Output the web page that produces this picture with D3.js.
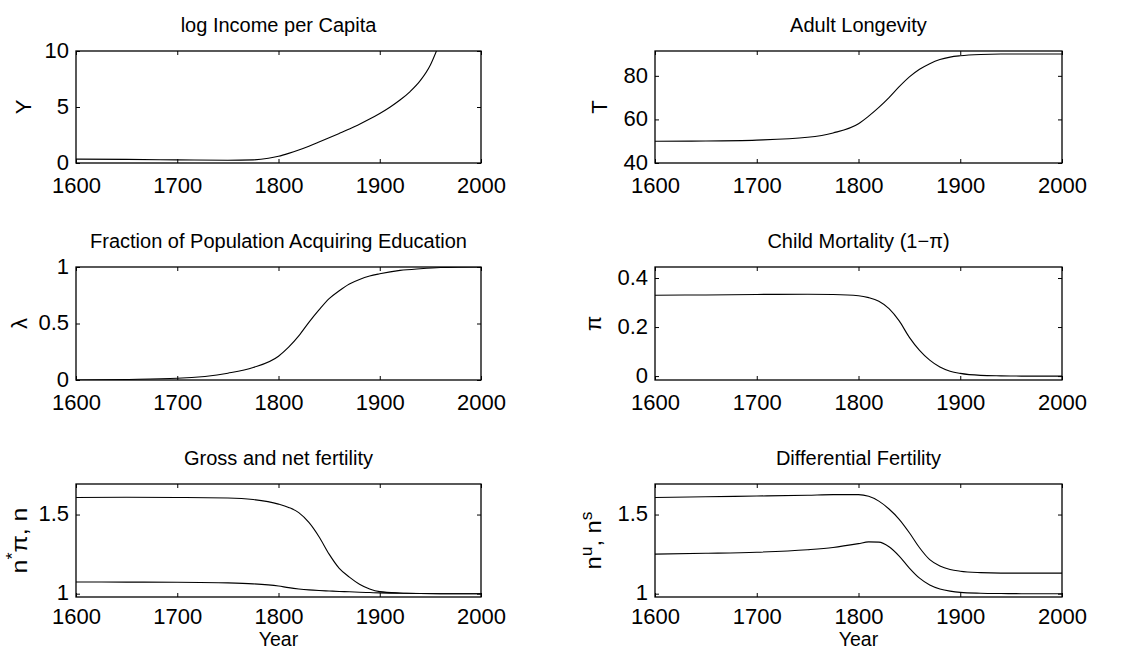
<!DOCTYPE html>
<html>
<head>
<meta charset="UTF-8">
<title>Demographic transition panels</title>
<script src="https://d3js.org/d3.v7.min.js"></script>
<style>
  body { margin: 0; background: #fff; }
  svg text { font-family: "Liberation Sans", Arial, sans-serif; fill: #000; }
</style>
</head>
<body>
<div id="chart"></div>
<script>
// years shared by most panels
const years = [1600,1650,1700,1750,1775,1800,1810,1820,1830,1840,1850,1860,1870,1880,1890,1900,1920,1940,1960,2000];

// log income per capita (leaves the top of the panel around 1956)
const incomeYears = [1600,1650,1700,1750,1775,1790,1800,1810,1820,1830,1840,1850,1860,1870,1880,1890,1900,1910,1920,1930,1940,1950,1956];
const incomeY = [0.35,0.32,0.28,0.24,0.28,0.42,0.6,0.86,1.16,1.5,1.87,2.25,2.64,3.04,3.46,3.92,4.42,4.98,5.62,6.38,7.35,8.75,10];

const longevityT = [50.0,50.1,50.5,51.8,53.8,58.0,61.5,65.5,70.0,75.0,79.5,83.0,85.6,87.5,88.6,89.2,89.8,90.0,90.0,90.0];
const educLambda = [0.0,0.005,0.015,0.06,0.11,0.21,0.29,0.39,0.51,0.62,0.72,0.79,0.85,0.89,0.92,0.94,0.97,0.985,0.995,1.0];
const childPi = [0.330,0.331,0.333,0.334,0.333,0.328,0.320,0.305,0.275,0.225,0.158,0.105,0.065,0.037,0.020,0.011,0.003,0.001,0.0,0.0];
const grossFert = [1.608,1.609,1.608,1.605,1.595,1.566,1.545,1.512,1.45,1.36,1.25,1.16,1.105,1.06,1.03,1.013,1.004,1.001,1.0,1.0];
const netFert = [1.074,1.073,1.072,1.068,1.062,1.048,1.038,1.03,1.024,1.02,1.017,1.014,1.012,1.009,1.007,1.005,1.003,1.001,1.0,1.0];
const fertU = [1.608,1.612,1.617,1.622,1.626,1.626,1.615,1.585,1.535,1.47,1.385,1.29,1.215,1.175,1.153,1.142,1.133,1.13,1.13,1.13];
const fertS = [1.25,1.255,1.262,1.278,1.292,1.316,1.327,1.326,1.297,1.238,1.162,1.098,1.055,1.03,1.016,1.008,1.003,1.001,1.0,1.0];

const xTicks = [1600,1700,1800,1900,2000];

const W = 1130, H = 652;
const svg = d3.select("#chart").append("svg").attr("width", W).attr("height", H);

const cols = [[76, 481], [655, 1062]];
const rows = [[51, 163], [267, 380], [484, 597]];

const panels = [
  {col:0, row:0, title:"log Income per Capita", ylab:[["Y"]], labX:31,
   yDomain:[0,10], yTicks:[0,5,10], series:[{x:incomeYears, y:incomeY}]},
  {col:1, row:0, title:"Adult Longevity", ylab:[["T"]], labX:607,
   yDomain:[40,91.4], yTicks:[40,60,80], series:[{x:years, y:longevityT}]},
  {col:0, row:1, title:"Fraction of Population Acquiring Education", ylab:[["λ"]], labX:27,
   yDomain:[0,1], yTicks:[0,0.5,1], series:[{x:years, y:educLambda}]},
  {col:1, row:1, title:"Child Mortality (1−π)", ylab:[["π"]], labX:601,
   yDomain:[-0.016,0.445], yTicks:[0,0.2,0.4], series:[{x:years, y:childPi}]},
  {col:0, row:2, title:"Gross and net fertility", ylab:[["n"],["*","sup"],["π, n"]], labLen:66, labX:27, xlab:"Year",
   yDomain:[0.979,1.693], yTicks:[1,1.5], series:[{x:years, y:grossFert}, {x:years, y:netFert}]},
  {col:1, row:2, title:"Differential Fertility", ylab:[["n"],["u","sup"],[", n"],["s","sup"]], labLen:58, labX:601, xlab:"Year",
   yDomain:[0.979,1.693], yTicks:[1,1.5], series:[{x:years, y:fertU}, {x:years, y:fertS}]}
];

panels.forEach((p, i) => {
  const [x0, x1] = cols[p.col];
  const [y0, y1] = rows[p.row];
  const x = d3.scaleLinear().domain([1600, 2000]).range([x0, x1]);
  const y = d3.scaleLinear().domain(p.yDomain).range([y1, y0]);

  const g = svg.append("g");

  // clip so the income curve stops at the top edge
  g.append("clipPath").attr("id", "clip" + i)
    .append("rect").attr("x", x0).attr("y", y0).attr("width", x1 - x0).attr("height", y1 - y0);

  // inward ticks on all four sides, labels only bottom/left
  const tickFmt = d => d3.format("~g")(d);
  const bottom = g.append("g").attr("transform", `translate(0,${y1})`)
    .call(d3.axisBottom(x).tickValues(xTicks).tickSizeInner(-4).tickSizeOuter(0)
      .tickPadding(p.xlab ? 11 : 14).tickFormat(d3.format("d")));
  const top = g.append("g").attr("transform", `translate(0,${y0})`)
    .call(d3.axisTop(x).tickValues(xTicks).tickSizeInner(-4).tickSizeOuter(0).tickFormat(""));
  const left = g.append("g").attr("transform", `translate(${x0},0)`)
    .call(d3.axisLeft(y).tickValues(p.yTicks).tickSizeInner(-4).tickSizeOuter(0).tickPadding(7).tickFormat(tickFmt));
  const right = g.append("g").attr("transform", `translate(${x1},0)`)
    .call(d3.axisRight(y).tickValues(p.yTicks).tickSizeInner(-4).tickSizeOuter(0).tickFormat(""));

  [bottom, top, left, right].forEach(a => {
    a.select(".domain").remove();
    a.selectAll("line").attr("stroke", "#000").attr("stroke-width", 1);
    a.selectAll("text").style("font-size", "22px").attr("fill", "#000");
  });
  // y tick labels sit a bit higher so the lowest one clears the year labels
  left.selectAll("text").attr("dy", "0.28em");

  g.selectAll(".curve" + i)
    .data(p.series)
    .enter().append("path")
    .attr("clip-path", `url(#clip${i})`)
    .attr("fill", "none")
    .attr("stroke", "#000")
    .attr("stroke-width", 1.1)
    .attr("d", s => d3.line().curve(d3.curveMonotoneX)
      .x((d, k) => x(s.x[k])).y(d => y(d))(s.y));

  g.append("rect")
    .attr("x", x0).attr("y", y0).attr("width", x1 - x0).attr("height", y1 - y0)
    .attr("fill", "none").attr("stroke", "#000").attr("stroke-width", 1.3);

  g.append("text")
    .attr("x", (x0 + x1) / 2).attr("y", y0 - 19)
    .attr("text-anchor", "middle").style("font-size", "20px")
    .text(p.title);

  const lab = g.append("text")
    .attr("transform", `translate(${p.labX},${(y0 + y1) / 2}) rotate(-90)`)
    .attr("text-anchor", "middle").style("font-size", "22px");
  if (p.labLen) lab.attr("textLength", p.labLen).attr("lengthAdjust", "spacingAndGlyphs");
  p.ylab.forEach((part, k) => {
    const prev = k > 0 && p.ylab[k - 1][1] === "sup";
    const t = lab.append("tspan").text(part[0]);
    if (part[1] === "sup") t.attr("dy", -9).style("font-size", "16px");
    else if (prev) t.attr("dy", 9);
  });

  if (p.xlab) {
    g.append("text")
      .attr("x", (x0 + x1) / 2).attr("y", y1 + 49)
      .attr("text-anchor", "middle").style("font-size", "19.5px")
      .text(p.xlab);
  }
});
</script>
</body>
</html>
